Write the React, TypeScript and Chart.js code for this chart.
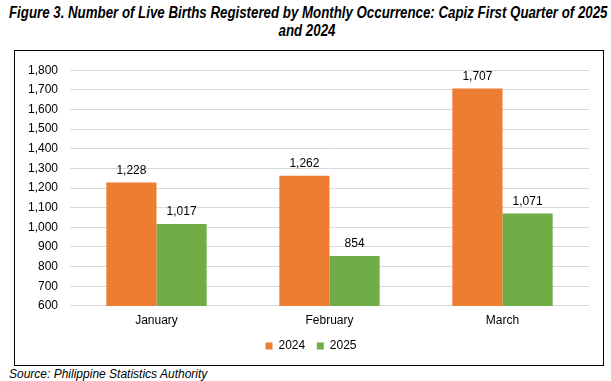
import React, { useEffect, useRef } from "react";
import { Chart, registerables } from "chart.js";

Chart.register(...registerables);

const categories = ["January", "February", "March"];
const series2024 = [1228, 1262, 1707];
const series2025 = [1017, 854, 1071];
const seriesNames = ["2024", "2025"];
const yTicksMin = 600;
const yTicksMax = 1800;
const yTickStep = 100;

const FONT = "'Liberation Sans', Arial, sans-serif";

const valueLabels = {
  id: "valueLabels",
  afterDatasetsDraw(chart: any) {
    const ctx = chart.ctx;
    ctx.save();
    ctx.font = `12px ${FONT}`;
    ctx.fillStyle = "#000000";
    ctx.textAlign = "center";
    ctx.textBaseline = "bottom";
    chart.data.datasets.forEach((ds: any, i: number) => {
      const meta = chart.getDatasetMeta(i);
      meta.data.forEach((bar: any, j: number) => {
        const v = ds.data[j] as number;
        ctx.fillText(v.toLocaleString("en-US"), bar.x, bar.y - 6);
      });
    });
    ctx.restore();
  },
};

const legendShift = {
  id: "legendShift",
  beforeDraw(chart: any) {
    const lg = chart.legend;
    if (lg && !lg._shifted) {
      lg.left += 9;
      lg.right += 9;
      lg._shifted = true;
    }
  },
};

export default function App() {
  const ref = useRef<HTMLCanvasElement>(null);
  useEffect(() => {
    if (!ref.current) return;
    const chart = new Chart(ref.current, {
      type: "bar",
      data: {
        labels: categories,
        datasets: [
          { label: seriesNames[0], data: series2024, backgroundColor: "#ED7D31" },
          { label: seriesNames[1], data: series2025, backgroundColor: "#70AD47" },
        ],
      },
      options: {
        animation: false,
        responsive: false,
        maintainAspectRatio: false,
        layout: { padding: { left: 0, right: 14, top: 14, bottom: 3 } },
        datasets: { bar: { categoryPercentage: 0.58, barPercentage: 1 } },
        plugins: {
          title: { display: false },
          tooltip: { enabled: false },
          legend: {
            position: "bottom",
            labels: {
              font: { family: FONT, size: 12 },
              color: "#000000",
              boxWidth: 7,
              boxHeight: 7,
              padding: 11.6,
            },
          },
        },
        scales: {
          x: {
            grid: { display: false, drawTicks: false },
            border: { display: false },
            ticks: { font: { family: FONT, size: 12 }, color: "#000000", padding: 8 },
            afterFit: (s: any) => {
              s.height = 22.5;
            },
          },
          y: {
            min: yTicksMin,
            max: yTicksMax,
            ticks: {
              stepSize: yTickStep,
              font: { family: FONT, size: 12 },
              color: "#000000",
              padding: 12,
              callback: (v: any) => Number(v).toLocaleString("en-US"),
            },
            grid: { color: "#D9D9D9", drawTicks: false },
            border: { display: false },
            afterFit: (s: any) => {
              s.width = 55;
            },
          },
        },
      },
      plugins: [valueLabels, legendShift],
    });
    return () => chart.destroy();
  }, []);

  const titleFont: React.CSSProperties = {
    fontFamily: "'Liberation Sans', Arial, sans-serif",
    fontWeight: "bold",
    fontStyle: "italic",
    fontSize: 16,
    lineHeight: "18px",
    color: "#000",
    whiteSpace: "nowrap",
    position: "absolute",
  };

  return (
    <div style={{ position: "absolute", left: 0, top: 0, width: 611, height: 381, overflow: "hidden", background: "#fff" }}>
      <div style={{ ...titleFont, left: 9, top: 4, transform: "scaleX(0.83)", transformOrigin: "0 0" }}>
        Figure 3. Number of Live Births Registered by Monthly Occurrence: Capiz First Quarter of 2025
      </div>
      <div
        style={{
          ...titleFont,
          left: 0,
          width: 614,
          top: 22,
          textAlign: "center",
          transform: "scaleX(0.83)",
          transformOrigin: "50% 0",
        }}
      >
        and 2024
      </div>
      <div
        style={{
          position: "absolute",
          left: 14,
          top: 50,
          width: 588,
          height: 314,
          border: "1px solid #000",
          boxSizing: "content-box",
        }}
      >
        <canvas ref={ref} width={588} height={314} style={{ display: "block" }} />
      </div>
      <div
        style={{
          position: "absolute",
          left: 9,
          top: 367,
          fontFamily: "'Liberation Sans', Arial, sans-serif",
          fontStyle: "italic",
          fontSize: 12,
          lineHeight: "14px",
          color: "#000",
        }}
      >
        Source: Philippine Statistics Authority
      </div>
    </div>
  );
}
